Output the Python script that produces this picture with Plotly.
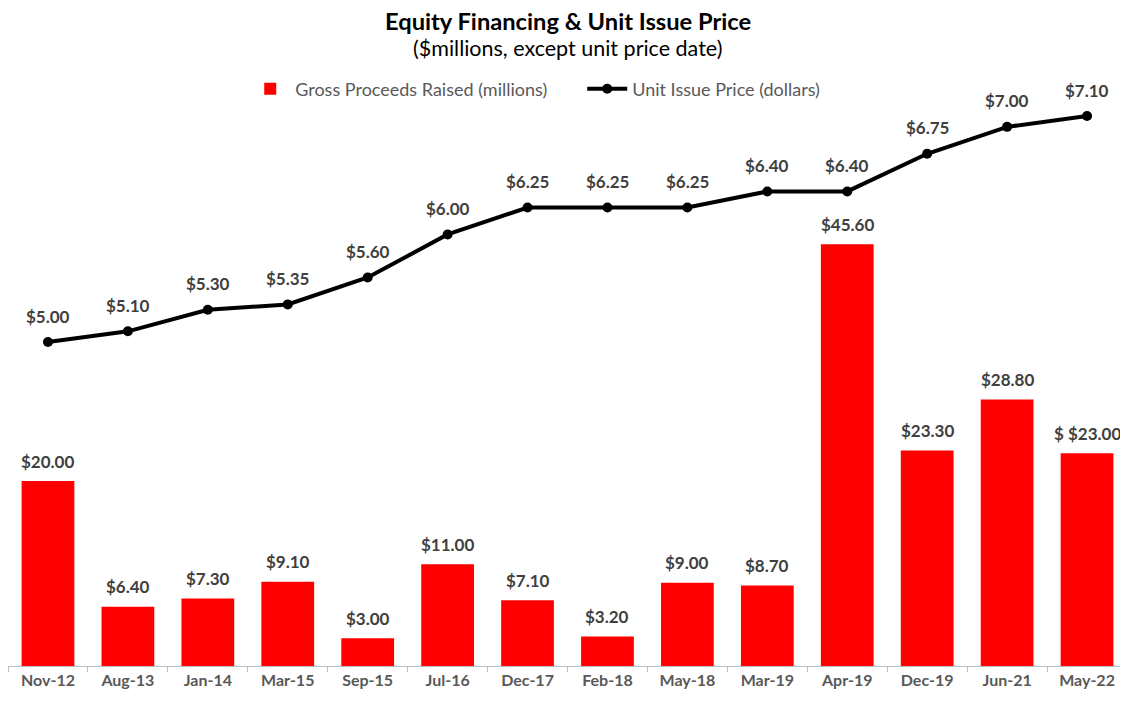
import plotly.graph_objects as go

categories = ["Nov-12", "Aug-13", "Jan-14", "Mar-15", "Sep-15", "Jul-16", "Dec-17",
              "Feb-18", "May-18", "Mar-19", "Apr-19", "Dec-19", "Jun-21", "May-22"]
gross_proceeds = [20.00, 6.40, 7.30, 9.10, 3.00, 11.00, 7.10, 3.20, 9.00, 8.70, 45.60, 23.30, 28.80, 23.00]
bar_labels = ["$20.00", "$6.40", "$7.30", "$9.10", "$3.00", "$11.00", "$7.10", "$3.20",
              "$9.00", "$8.70", "$45.60", "$23.30", "$28.80", "$ $23.00"]
unit_price = [5.00, 5.10, 5.30, 5.35, 5.60, 6.00, 6.25, 6.25, 6.25, 6.40, 6.40, 6.75, 7.00, 7.10]
price_labels = ["$%.2f" % v for v in unit_price]

FONT = "Lato, 'Open Sans', sans-serif"

fig = go.Figure()
fig.add_trace(go.Bar(
    x=categories, y=gross_proceeds, name="Gross Proceeds Raised (millions)",
    marker=dict(color="#FF0000", line=dict(width=0)), yaxis="y",
))
fig.add_trace(go.Scatter(
    x=categories, y=unit_price, name="Unit Issue Price (dollars)",
    mode="lines+markers", line=dict(color="black", width=4),
    marker=dict(color="black", size=10), yaxis="y2",
))

annotations = []
for c, v, t in zip(categories, gross_proceeds, bar_labels):
    annotations.append(dict(x=c, y=v, xref="x", yref="y", text="<b>%s</b>" % t,
                            showarrow=False, yshift=20,
                            font=dict(family=FONT, size=17, color="#404040")))
for c, v, t in zip(categories, unit_price, price_labels):
    annotations.append(dict(x=c, y=v, xref="x", yref="y2", text="<b>%s</b>" % t,
                            showarrow=False, yshift=26,
                            font=dict(family=FONT, size=17, color="#404040")))
annotations.append(dict(x=0.5, y=1.1497, xref="paper", yref="paper", yanchor="middle",
                        xanchor="center",
                        text="<b>Equity Financing &amp; Unit Issue Price</b>",
                        showarrow=False, font=dict(family=FONT, size=23.7, color="black")))
annotations.append(dict(x=0.5, y=1.1016, xref="paper", yref="paper", yanchor="middle",
                        xanchor="center",
                        text="($millions, except unit price date)",
                        showarrow=False, font=dict(family=FONT, size=21.5, color="black")))

fig.update_layout(
    width=1120, height=694,
    margin=dict(l=0, r=1, t=97, b=36, autoexpand=False),
    paper_bgcolor="white", plot_bgcolor="white",
    bargap=0.34,
    showlegend=True,
    legend=dict(orientation="h", x=0.212, xanchor="left", y=1.0285, yanchor="middle",
                font=dict(family=FONT, size=18, color="#595959"),
                traceorder="normal", itemwidth=40, entrywidth=282, entrywidthmode="pixels"),
    xaxis=dict(type="category", range=[-0.5, 13.5], showgrid=False, showline=True,
               linecolor="#BFBFBF", linewidth=1,
               ticks="outside", tickson="boundaries", ticklen=5, tickcolor="#BFBFBF",
               automargin=False,
               tickfont=dict(family=FONT, size=16, color="#595959"), tickprefix="<b>", ticksuffix="</b>"),
    yaxis=dict(range=[0, 60.65], visible=False, showgrid=False, zeroline=False),
    yaxis2=dict(range=[1.99, 7.203], overlaying="y", side="right", visible=False,
                showgrid=False, zeroline=False),
    annotations=annotations,
    font=dict(family=FONT),
)

fig.write_html("out.html")
